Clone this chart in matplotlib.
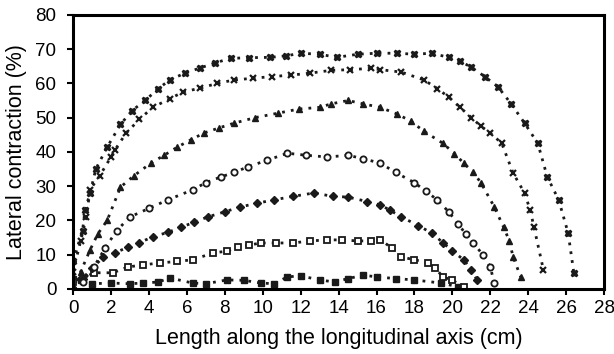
import matplotlib
matplotlib.use('Agg')
import matplotlib.pyplot as plt

plt.rcParams['font.family'] = ['Liberation Sans', 'DejaVu Sans']

# series, bottom curve first
x1 = [0, 0.4, 1, 2, 3, 3.7, 4.5, 5.1, 6.3, 7, 8.1, 9, 9.9, 10.6, 11.3, 12, 13, 13.8, 14.5, 15.3, 16, 17, 18, 19.4, 20.3]
y1 = [3, 2.6, 1.5, 1.7, 1.5, 1.7, 2.0, 3.2, 1.7, 1.5, 2.6, 2.5, 1.7, 1.5, 3.5, 3.8, 2.6, 2.0, 3.0, 4.0, 3.5, 3.0, 2.6, 1.7, 0.6]

x2 = [0, 0.5, 1.1, 2.1, 2.9, 3.7, 4.6, 5.5, 6.3, 7.4, 8.1, 8.7, 9.3, 9.9, 10.7, 11.6, 12.5, 13.4, 14.2, 15, 15.7, 16.2, 16.8, 17.3, 18, 18.7, 19.1, 19.5, 20, 20.6]
y2 = [2, 3, 4.7, 4.7, 6.4, 7, 7.6, 8, 8.5, 10.5, 11, 12.2, 12.8, 13.4, 13.4, 13.4, 14, 14.3, 14.3, 14, 14, 14.3, 12, 9.3, 8.5, 7.6, 6, 3.5, 2.5, 0.6]

x3 = [0, 0.5, 1, 1.6, 2.2, 2.9, 3.5, 4.2, 5, 5.7, 6.4, 7.1, 8, 8.8, 9.7, 10.6, 11.6, 12.7, 13.7, 14.5, 15.5, 16.2, 16.7, 17.3, 18.2, 18.9, 19.5, 20, 20.6, 21, 21.3]
y3 = [0, 3, 6, 9.3, 10.5, 12.2, 13.5, 15.2, 16.5, 18, 19.5, 21, 22.5, 23.9, 25, 26, 27, 28, 27, 26.8, 25.5, 24.5, 23, 21, 18.5, 16.3, 13.5, 11, 8.5, 5.5, 2.6]

x4 = [0, 0.5, 1.1, 1.7, 2.3, 3, 4, 5, 6.3, 7, 7.8, 8.5, 9.2, 10.2, 11.3, 12.3, 13.4, 14.5, 15.3, 16.2, 17, 18, 18.6, 19.2, 19.8, 20.3, 20.7, 21.1, 21.6, 22, 22.2]
y4 = [0, 2, 6.4, 12, 17, 21, 23.5, 26, 28.9, 31, 32.7, 34, 35.6, 37.5, 39.6, 39, 38.5, 39, 38, 36.7, 34, 31, 28.5, 26, 22.5, 19, 16, 13.4, 10, 6.4, 1.7]

x5 = [0, 0.4, 0.9, 1.3, 1.8, 2.5, 3.2, 4.1, 4.8, 5.5, 6.2, 6.9, 7.7, 8.5, 9.6, 10.8, 11.9, 13, 13.6, 14.5, 15.3, 16.2, 17.1, 17.8, 18.5, 19.5, 20.1, 20.6, 21.1, 21.5, 22.2, 22.7, 23, 23.2, 23.6]
y5 = [0, 5, 11.4, 16, 20, 29.7, 33, 36.7, 39, 41.4, 43.5, 45.5, 47, 48.4, 50, 51.3, 52.5, 53, 54, 55, 54, 53, 51, 49, 46, 42.5, 39.5, 36.7, 34, 31, 24, 18, 14, 9.3, 3.5]

x6 = [0, 0.4, 0.7, 0.9, 1.4, 2, 2.2, 2.8, 3.5, 4.2, 5.1, 5.8, 6.7, 7.6, 8.5, 9.5, 10.5, 11.5, 12.5, 13.6, 14.6, 15.7, 16.2, 17.3, 18.5, 19.2, 19.8, 20.4, 21, 21.5, 22, 22.6, 23.2, 23.8, 24.1, 24.3, 24.8]
y6 = [5, 14, 21, 29, 33, 38.5, 40.5, 45.5, 49.5, 53, 55.5, 57.5, 58.6, 60, 61, 61.5, 62, 62.4, 63, 63.8, 64, 64.4, 64, 63.3, 61, 58.5, 56, 53, 50, 47.5, 45.5, 42.5, 33.8, 28, 23, 18, 5.5]

x7 = [0, 0.5, 0.63, 0.9, 1.2, 1.8, 2.5, 3.1, 3.8, 4.5, 5.1, 5.9, 6.7, 7.5, 8.3, 9.3, 10.4, 11.2, 12, 13, 13.9, 15, 16, 17.1, 18, 18.9, 19.8, 20.4, 21, 21.7, 22.4, 23.1, 23.8, 24.5, 25, 25.6, 26.1, 26.4]
y7 = [8, 17, 23, 28, 35, 41.4, 48, 52, 55, 58.5, 61, 63, 64.5, 66, 67.3, 67.5, 67.6, 68, 68.8, 68.5, 67.6, 68.5, 68.8, 68.8, 68.5, 68.8, 67.6, 66.5, 64.7, 62, 59, 54, 48.4, 42.5, 32.7, 26, 16.3, 4.7]

xticks = list(range(0, 29, 2))
yticks = list(range(0, 81, 10))

fig = plt.figure(figsize=(6.14, 3.54), dpi=100)
ax = fig.add_axes([0.119, 0.184, 0.865, 0.774])

ls = (0, (1, 2.2))
col = '#1a1a1a'
ax.plot(x1, y1, linestyle=ls, color=col, lw=2, marker='s', ms=4.5, mfc=col, mec=col)
ax.plot(x2, y2, linestyle=ls, color=col, lw=2, marker='s', ms=5, mfc='white', mec=col, mew=1.3)
ax.plot(x3, y3, linestyle=ls, color=col, lw=2, marker='D', ms=4, mfc=col, mec=col)
ax.plot(x4, y4, linestyle=ls, color=col, lw=2, marker='o', ms=4.5, mfc='white', mec=col, mew=1.3)
ax.plot(x5, y5, linestyle=ls, color=col, lw=2, marker='^', ms=4.5, mfc=col, mec=col)
ax.plot(x6, y6, linestyle=ls, color=col, lw=2, marker='x', ms=4.5, mec=col, mew=1.6)
ax.plot(x7, y7, linestyle=ls, color=col, lw=2, marker='X', ms=5, mfc=col, mec=col)

ax.set_xlim(0, 28)
ax.set_ylim(0, 80)
ax.set_xticks(xticks)
ax.set_yticks(yticks)
for s in ax.spines.values():
    s.set_linewidth(2.2)
ax.tick_params(direction='out', length=4, width=1.5, labelsize=13.5)
ax.tick_params(axis='x', pad=4)
ax.tick_params(axis='y', pad=8)
ax.set_xlabel('Length along the longitudinal axis (cm)', fontsize=15.5, labelpad=8)
ax.set_ylabel('Lateral contraction (%)', fontsize=15.5, labelpad=6)

fig.savefig('out.png', dpi=100)
